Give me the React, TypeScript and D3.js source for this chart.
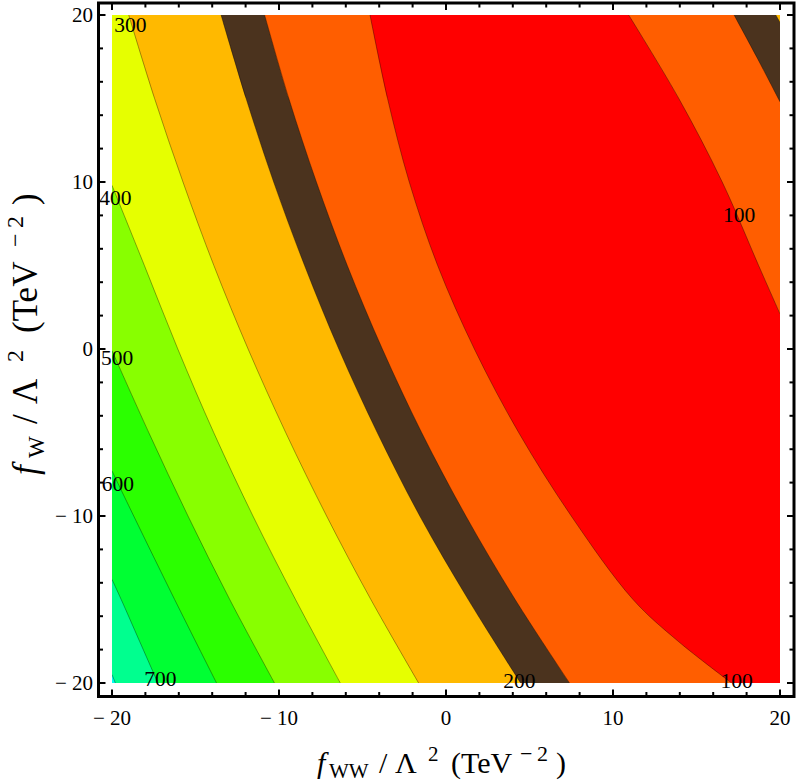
import React from "react";
import * as d3 from "d3";

const W = 797;
const H = 784;

const DOMAIN: [number, number] = [-20, 20];
const MAJOR_TICKS = [-20, -10, 0, 10, 20];
const MINOR_TICKS = d3.range(-20, 21, 2);

// Contour curves, points are [fWW, fW] in TeV^-2
const C800 = [[-20, -19.5], [-19.8, -20]];
const C700 = [[-20, -13.8], [-19.45, -15], [-18.35, -17.5], [-17.25, -20]];
const C600 = [[-20, -7.3], [-18.7, -10], [-16.25, -15], [-13.74, -20]];
const C500 = [[-20, -0.1], [-17.8, -5], [-15.45, -10], [-12.95, -15], [-10.27, -20]];
const C400 = [[-20, 9.8], [-18.06, 5], [-16.06, 0], [-13.91, -5], [-11.56, -10], [-9.01, -15], [-6.33, -20]];
const C300 = [[-19.0, 20], [-17.45, 15], [-15.75, 10], [-13.9, 5], [-11.85, 0], [-9.6, -5], [-7.15, -10], [-4.5, -15], [-1.64, -20]];
const C200 = [[-13.47, 20], [-11.97, 15], [-10.32, 10], [-8.47, 5], [-6.42, 0], [-4.12, -5], [-1.57, -10], [1.33, -15], [4.47, -20]];
const CBAND = [[-10.86, 20], [-9.41, 15], [-7.76, 10], [-5.91, 5], [-3.81, 0], [-1.46, -5], [1.19, -10], [4.14, -15], [7.4, -20]];
const C100L = [[-4.55, 20], [-3.5, 15], [-2.2, 10], [-0.5, 5], [1.7, 0], [4.35, -5], [7.5, -10], [11.2, -15], [13.9, -17.5], [17.1, -20]];
const C100R = [[10.94, 20], [13.94, 15], [16.54, 10], [18.72, 5], [20, 2.1]];
const CBANDR = [[17.25, 20], [18.65, 17.4], [20, 14.8]];
const C200R = [[19.75, 20], [20, 19.55]];

// band colours (Mathematica hue steps)
const COLORS = {
  red: "#ff0000",
  orangeRed: "#ff5e00",
  brown: "#4b331e",
  orange: "#ffb900",
  yellow: "#e6ff00",
  lime: "#88ff00",
  green: "#2bff00",
  green2: "#00ff33",
  teal: "#00ff8f",
  cyan: "#00ffee",
};

const LEFT_BANDS = [
  { curve: CBAND, color: COLORS.brown },
  { curve: C200, color: COLORS.orange },
  { curve: C300, color: COLORS.yellow },
  { curve: C400, color: COLORS.lime },
  { curve: C500, color: COLORS.green },
  { curve: C600, color: COLORS.green2 },
  { curve: C700, color: COLORS.teal },
  { curve: C800, color: COLORS.cyan },
];

const LEVEL_LABELS = [
  { text: "300", x: -18.9, y: 19.45 },
  { text: "400", x: -19.8, y: 9.1 },
  { text: "500", x: -19.7, y: -0.5 },
  { text: "600", x: -19.65, y: -8.05 },
  { text: "700", x: -17.1, y: -19.75 },
  { text: "200", x: 4.4, y: -19.85 },
  { text: "100", x: 17.4, y: -19.85 },
  { text: "100", x: 17.55, y: 8.05 },
];

const FONT = "'Liberation Serif', 'Times New Roman', Times, serif";

export default function App() {
  const x = d3.scaleLinear().domain(DOMAIN).range([112, 780]);
  const y = d3.scaleLinear().domain(DOMAIN).range([683, 15]);

  const lineGen = d3
    .line<number[]>()
    .x((d) => x(d[0]))
    .y((d) => y(d[1]))
    .curve(d3.curveCatmullRom.alpha(0.5));

  const corner = (c: number[]) => `L${x(c[0])},${y(c[1])}`;
  const region = (pts: number[][], corners: number[][]) =>
    (lineGen(pts) || "") + corners.map(corner).join("") + "Z";

  const redPath =
    (lineGen(C100L) || "") +
    corner([20, -20]) +
    (lineGen(C100R.slice().reverse()) || "").replace(/^M/, "L") +
    "Z";

  const allCurves = [C800, C700, C600, C500, C400, C300, C200, CBAND, C100L, C100R, CBANDR, C200R];

  const frame = { x0: 98.5, x1: 794, y0: 3, y1: 696.5 };
  const tickLabel = (v: number) => (v < 0 ? `\u2212 ${-v}` : `${v}`);

  // y-label: rotated, u runs upward from py = 475
  const YB = 37;
  const Y0 = 475;

  return (
    <svg
      width={W}
      height={H}
      style={{ position: "absolute", left: 0, top: 0, background: "#fff" }}
      fontFamily={FONT}
    >
      <defs>
        <clipPath id="plotClip">
          <rect x={x(-20)} y={y(20)} width={x(20) - x(-20)} height={y(-20) - y(20)} />
        </clipPath>
      </defs>
      <rect width={W} height={H} fill="#fff" />
      <g clipPath="url(#plotClip)">
        <rect x={x(-20)} y={y(20)} width={x(20) - x(-20)} height={y(-20) - y(20)} fill={COLORS.orangeRed} />
        <path d={redPath} fill={COLORS.red} />
        <path d={region(CBANDR, [[20, 20]])} fill={COLORS.brown} />
        <path d={region(C200R, [[20, 20]])} fill={COLORS.orange} />
        {LEFT_BANDS.map((b, i) => (
          <path key={i} d={region(b.curve, [[-20, -20], [-20, 20]])} fill={b.color} />
        ))}
        {allCurves.map((c, i) => (
          <path key={"l" + i} d={lineGen(c) || ""} fill="none" stroke="#000" strokeOpacity={0.35} strokeWidth={1} />
        ))}
      </g>

      {LEVEL_LABELS.map((l, i) => (
        <text key={"lab" + i} x={x(l.x)} y={y(l.y) + 7.5} fontSize={21.5} textAnchor="middle" fill="#000">
          {l.text}
        </text>
      ))}

      {/* frame */}
      <rect
        x={frame.x0}
        y={frame.y0}
        width={frame.x1 - frame.x0}
        height={frame.y1 - frame.y0}
        fill="none"
        stroke="#000"
        strokeWidth={3}
      />
      {MINOR_TICKS.map((v) => {
        const len = MAJOR_TICKS.includes(v) ? 7 : 4.5;
        return (
          <g key={"t" + v} stroke="#000" strokeWidth={2}>
            <line x1={x(v)} x2={x(v)} y1={frame.y1} y2={frame.y1 - len} />
            <line x1={x(v)} x2={x(v)} y1={frame.y0} y2={frame.y0 + len} />
            <line y1={y(v)} y2={y(v)} x1={frame.x0} x2={frame.x0 + len} />
            <line y1={y(v)} y2={y(v)} x1={frame.x1} x2={frame.x1 - len} />
          </g>
        );
      })}
      {MAJOR_TICKS.map((v) => (
        <text key={"xl" + v} x={x(v)} y={725} fontSize={21} textAnchor="middle">
          {tickLabel(v)}
        </text>
      ))}
      {MAJOR_TICKS.map((v) => (
        <text key={"yl" + v} x={93} y={y(v) + 7} fontSize={21} textAnchor="end">
          {tickLabel(v)}
        </text>
      ))}

      {/* x axis label */}
      <g fontSize={30}>
        <text x={317} y={773} fontStyle="italic">f</text>
        <text x={329} y={778} fontSize={21}>WW</text>
        <text x={379} y={773}>/</text>
        <text x={395} y={773}>Λ</text>
        <text x={428} y={761} fontSize={21}>2</text>
        <text x={451} y={773}>(TeV</text>
        <text x={520} y={761} fontSize={22}>−</text>
        <text x={537} y={761} fontSize={22}>2</text>
        <text x={556} y={773}>)</text>
      </g>

      {/* y axis label */}
      <g transform={`translate(${YB},${Y0}) rotate(-90)`} fontSize={35}>
        <text x={0} y={0} fontStyle="italic">f</text>
        <text x={17} y={7} fontSize={23}>W</text>
        <text x={51} y={0}>/</text>
        <text x={71} y={0}>Λ</text>
        <text x={113} y={-14} fontSize={24}>2</text>
        <text x={142} y={0}>(TeV</text>
        <text x={228} y={-14} fontSize={24}>−</text>
        <text x={247} y={-14} fontSize={24}>2</text>
        <text x={270} y={0}>)</text>
      </g>
    </svg>
  );
}
